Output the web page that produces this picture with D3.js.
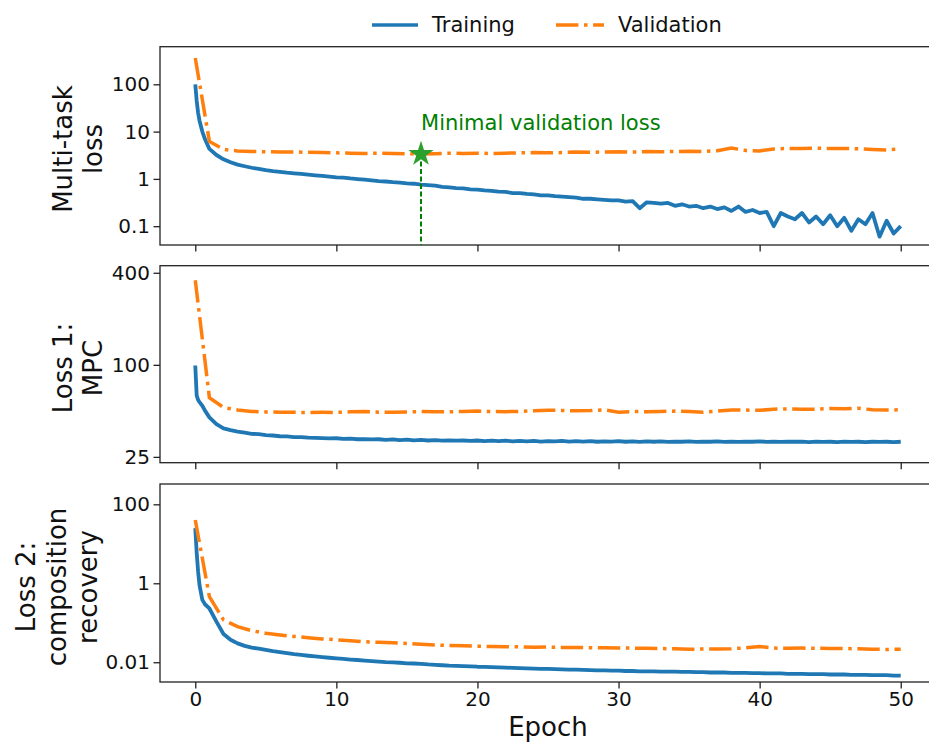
<!DOCTYPE html>
<html>
<head>
<meta charset="utf-8">
<script src="https://cdn.jsdelivr.net/npm/d3@7"></script>
<style>
  body { margin: 0; background: #fff; }
  svg { display: block; }
</style>
</head>
<body>
<svg id="chart"></svg>
<script>
const trainEpochs = [0, 0.1, 0.2, 0.3, 0.5, 0.7, 1, 1.5, 2, 2.5, 3, 3.5, 4, 4.5, 5, 5.5, 6, 6.5, 7, 7.5, 8, 8.5, 9, 9.5,
    10, 10.5, 11, 11.5, 12, 12.5, 13, 13.5, 14, 14.5, 15, 15.5, 16, 16.5, 17, 17.5, 18, 18.5, 19, 19.5,
    20, 20.5, 21, 21.5, 22, 22.5, 23, 23.5, 24, 24.5, 25, 25.5, 26, 26.5, 27, 27.5, 28, 28.5, 29, 29.5,
    30, 30.5, 31, 31.5, 32, 32.5, 33, 33.5, 34, 34.5, 35, 35.5, 36, 36.5, 37, 37.5, 38, 38.5, 39, 39.5,
    40, 40.5, 41, 41.5, 42, 42.5, 43, 43.5, 44, 44.5, 45, 45.5, 46, 46.5, 47, 47.5, 48, 48.5, 49, 49.5, 50];

const trainMulti = [100, 45, 25, 17, 10, 6.8, 4.3, 3.2, 2.6, 2.25, 2.0, 1.85, 1.72, 1.62, 1.53, 1.46, 1.41, 1.35, 1.31, 1.27, 1.23, 1.19, 1.16, 1.12,
    1.08, 1.06, 1.02, 0.99, 0.96, 0.93, 0.9, 0.88, 0.85, 0.83, 0.8, 0.79, 0.76, 0.74, 0.72, 0.68, 0.66, 0.64, 0.63, 0.6,
    0.59, 0.57, 0.56, 0.54, 0.53, 0.5, 0.5, 0.48, 0.47, 0.45, 0.45, 0.43, 0.42, 0.41, 0.4, 0.38, 0.38, 0.37, 0.36, 0.35,
    0.35, 0.33, 0.34, 0.24, 0.32, 0.31, 0.3, 0.31, 0.27, 0.29, 0.26, 0.27, 0.24, 0.26, 0.23, 0.25, 0.21, 0.26, 0.2, 0.22,
    0.19, 0.2, 0.1, 0.19, 0.16, 0.14, 0.19, 0.12, 0.16, 0.11, 0.17, 0.1, 0.15, 0.08, 0.14, 0.11, 0.19, 0.06, 0.13, 0.07, 0.1];

const trainMPC = [99, 63, 59, 57, 54, 50, 45.3, 40.9, 38.4, 37.4, 36.6, 36.0, 35.4, 35.2, 34.7, 34.5, 34.1, 34.0, 33.7, 33.7, 33.4, 33.3, 33.2, 33.0,
    33.1, 32.8, 32.9, 32.6, 32.7, 32.5, 32.6, 32.3, 32.5, 32.2, 32.4, 32.1, 32.3, 32.0, 32.2, 31.9, 32.1, 31.9, 32.0, 31.8,
    32.0, 31.7, 31.9, 31.7, 31.9, 31.6, 31.8, 31.6, 31.8, 31.5, 31.7, 31.6, 31.8, 31.5, 31.7, 31.5, 31.7, 31.4, 31.6, 31.5,
    31.7, 31.4, 31.6, 31.3, 31.6, 31.4, 31.6, 31.3, 31.5, 31.4, 31.6, 31.3, 31.5, 31.4, 31.6, 31.3, 31.5, 31.3, 31.5, 31.4,
    31.6, 31.3, 31.5, 31.3, 31.5, 31.4, 31.5, 31.2, 31.5, 31.3, 31.4, 31.2, 31.5, 31.3, 31.4, 31.2, 31.4, 31.3, 31.4, 31.2, 31.4];

const trainComp = [25, 6, 2.0, 0.9, 0.38, 0.29, 0.23, 0.107, 0.052, 0.037, 0.030, 0.026, 0.0235, 0.022, 0.0205, 0.019, 0.018, 0.017, 0.016, 0.0153, 0.0146, 0.014, 0.0135, 0.013,
    0.0126, 0.0121, 0.0117, 0.0114, 0.011, 0.0107, 0.0104, 0.0101, 0.0099, 0.0097, 0.0094, 0.0093, 0.0091, 0.0088, 0.0086, 0.0084, 0.0082, 0.0081, 0.008, 0.0079,
    0.0077, 0.0076, 0.0075, 0.0074, 0.0073, 0.0072, 0.0071, 0.007, 0.0069, 0.0068, 0.0068, 0.0067, 0.0066, 0.0065, 0.0065, 0.0064, 0.0063, 0.0062, 0.0062, 0.0061,
    0.0061, 0.006, 0.006, 0.0059, 0.0059, 0.0059, 0.0058, 0.0058, 0.0058, 0.0057, 0.0057, 0.0056, 0.0056, 0.0055, 0.0055, 0.0055, 0.0054, 0.0054, 0.0054, 0.0053,
    0.0053, 0.0052, 0.0052, 0.0052, 0.0051, 0.0051, 0.0051, 0.005, 0.005, 0.005, 0.0049, 0.0049, 0.0049, 0.0048, 0.0048, 0.0048, 0.0047, 0.0047, 0.0047, 0.0046, 0.0046];

const valEpochs = [0, 1, 2, 3, 4, 5, 6, 7, 8, 9, 10, 11, 12, 13, 14, 15, 16, 17, 18, 19, 20, 21, 22, 23, 24, 25,
    26, 27, 28, 29, 30, 31, 32, 33, 34, 35, 36, 37, 38, 39, 40, 41, 42, 43, 44, 45, 46, 47, 48, 49, 50];

const valMulti = [360, 6.2, 4.2, 3.9, 3.8, 3.75, 3.7, 3.7, 3.65, 3.6, 3.55, 3.5, 3.45, 3.5, 3.45, 3.4, 3.35, 3.4, 3.5, 3.45, 3.5, 3.45, 3.5, 3.55, 3.6, 3.55,
    3.6, 3.7, 3.65, 3.7, 3.75, 3.7, 3.8, 3.75, 3.8, 3.85, 3.8, 3.95, 4.5, 4.0, 3.9, 4.3, 4.4, 4.4, 4.45, 4.4, 4.4, 4.35, 4.2, 4.1, 4.3];

const valMPC = [357, 61, 52.6, 50.7, 49.6, 49.2, 49.0, 48.9, 48.8, 48.9, 48.8, 49.3, 49.5, 49.0, 48.9, 49.2, 49.5, 49.3, 49.3, 49.6, 49.8, 49.5, 49.4, 49.6, 50.0, 50.5,
    50.3, 50.0, 50.2, 50.8, 49.0, 49.5, 49.4, 49.6, 49.8, 49.6, 48.9, 49.8, 50.6, 50.6, 50.4, 51.3, 51.5, 51.2, 51.3, 51.8, 51.7, 52.0, 50.8, 50.6, 50.8];

const valComp = [40, 0.46, 0.118, 0.08, 0.063, 0.054, 0.049, 0.045, 0.042, 0.039, 0.037, 0.035, 0.033, 0.032, 0.031, 0.030, 0.0285, 0.0275, 0.0265, 0.026, 0.0255, 0.025, 0.0248, 0.0245, 0.024, 0.0242,
    0.0238, 0.0236, 0.0234, 0.0232, 0.023, 0.0228, 0.0226, 0.0222, 0.022, 0.0214, 0.0216, 0.0218, 0.022, 0.0232, 0.025, 0.0228, 0.0226, 0.0228, 0.0226, 0.0224, 0.0222, 0.022, 0.0214, 0.021, 0.0214];

const epochTicks = [0, 10, 20, 30, 40, 50];
const multiTicks = [0.1, 1, 10, 100];
const mpcTicks = [25, 100, 400];
const compTicks = [0.01, 1, 100];

const width = 929;
const height = 746;
const left = 160;
const right = 936;
const font = "'DejaVu Sans', sans-serif";
const blue = "#1f77b4";
const orange = "#ff7f0e";

const svg = d3.select("#chart")
    .attr("width", width)
    .attr("height", height)
    .style("font-family", font);

const x = d3.scaleLinear().domain([-2.5, 52.5]).range([left, right]);

const panels = [
    { label: ["Multi-task", "loss"], labelX: [72, 102], labelY: 149, top: 46.7, bottom: 245, domain: [0.04, 624], ticks: multiTicks, train: trainMulti, val: valMulti },
    { label: ["Loss 1:", "MPC"], labelX: [72, 102], labelY: 368, top: 265.7, bottom: 462.7, domain: [22.9, 445], ticks: mpcTicks, train: trainMPC, val: valMPC },
    { label: ["Loss 2:", "composition", "recovery"], labelX: [35, 66, 97], labelY: 587, top: 484, bottom: 682, domain: [0.00316, 327], ticks: compTicks, train: trainComp, val: valComp }
];

panels.forEach((p, i) => {
    const y = d3.scaleLog().domain(p.domain).range([p.bottom, p.top]);
    p.y = y;

    const g = svg.append("g");

    const yAxis = g.append("g")
        .attr("transform", "translate(" + left + ",0)")
        .call(d3.axisLeft(y).tickValues(p.ticks).tickFormat(d3.format("~g")).tickSize(6.5).tickPadding(3.5).tickSizeOuter(0));
    yAxis.select(".domain").remove();

    const xAxis = g.append("g")
        .attr("transform", "translate(0," + p.bottom + ")")
        .call(d3.axisBottom(x).tickValues(epochTicks).tickSize(6.5).tickPadding(3.5).tickSizeOuter(0));
    xAxis.select(".domain").remove();
    if (i < 2) xAxis.selectAll("text").remove();

    g.selectAll(".tick line").attr("stroke", "#222").attr("stroke-width", 1.3);
    g.selectAll(".tick text").attr("fill", "#111").style("font-size", "20px").style("font-family", font);

    const trainLine = d3.line()
        .x((d, j) => x(trainEpochs[j]))
        .y(d => y(d));
    const valLine = d3.line()
        .x((d, j) => x(valEpochs[j]))
        .y(d => y(d));

    g.append("path")
        .datum(p.train)
        .attr("d", trainLine)
        .attr("fill", "none")
        .attr("stroke", blue)
        .attr("stroke-width", 3.8)
        .attr("stroke-linejoin", "round");

    g.append("path")
        .datum(p.val)
        .attr("d", valLine)
        .attr("fill", "none")
        .attr("stroke", orange)
        .attr("stroke-width", 3.5)
        .attr("stroke-dasharray", "22.4,5.6,3.5,5.6");

    g.append("rect")
        .attr("x", left)
        .attr("y", p.top)
        .attr("width", right - left)
        .attr("height", p.bottom - p.top)
        .attr("fill", "none")
        .attr("stroke", "#222")
        .attr("stroke-width", 1.3);

    const lab = g.append("text")
        .attr("transform", "translate(0," + p.labelY + ") rotate(-90)")
        .attr("text-anchor", "middle")
        .style("font-size", "26px")
        .attr("fill", "#111");
    p.label.forEach((s, k) => {
        lab.append("tspan").attr("x", 0).attr("y", p.labelX[k]).text(s);
    });
});

// best epoch marker on the multi-task panel
const multiPanel = panels[0];
const best = d3.minIndex(valMulti);
const bx = x(valEpochs[best]);
const by = multiPanel.y(valMulti[best]);

svg.append("line")
    .attr("x1", bx).attr("x2", bx)
    .attr("y1", by).attr("y2", multiPanel.bottom)
    .attr("stroke", "green")
    .attr("stroke-width", 2)
    .attr("stroke-dasharray", "5,2.5");

svg.append("path")
    .attr("d", d3.symbol().type(d3.symbolStar).size(200)())
    .attr("transform", "translate(" + bx + "," + by + ")")
    .attr("fill", "#2ca02c");

svg.append("text")
    .attr("x", bx)
    .attr("y", by - 24)
    .attr("fill", "green")
    .style("font-size", "21px")
    .text("Minimal validation loss");

svg.append("text")
    .attr("x", (left + right) / 2)
    .attr("y", 736)
    .attr("text-anchor", "middle")
    .attr("fill", "#111")
    .style("font-size", "26px")
    .text("Epoch");

// legend
const legend = svg.append("g");
legend.append("line")
    .attr("x1", 372).attr("x2", 418).attr("y1", 25).attr("y2", 25)
    .attr("stroke", blue).attr("stroke-width", 3.5);
legend.append("text")
    .attr("x", 432).attr("y", 32)
    .attr("fill", "#111")
    .style("font-size", "21px")
    .text("Training");
legend.append("line")
    .attr("x1", 556).attr("x2", 604).attr("y1", 25).attr("y2", 25)
    .attr("stroke", orange).attr("stroke-width", 3.5)
    .attr("stroke-dasharray", "22.4,5.6,3.5,5.6");
legend.append("text")
    .attr("x", 618).attr("y", 32)
    .attr("fill", "#111")
    .style("font-size", "21px")
    .text("Validation");
</script>
</body>
</html>
